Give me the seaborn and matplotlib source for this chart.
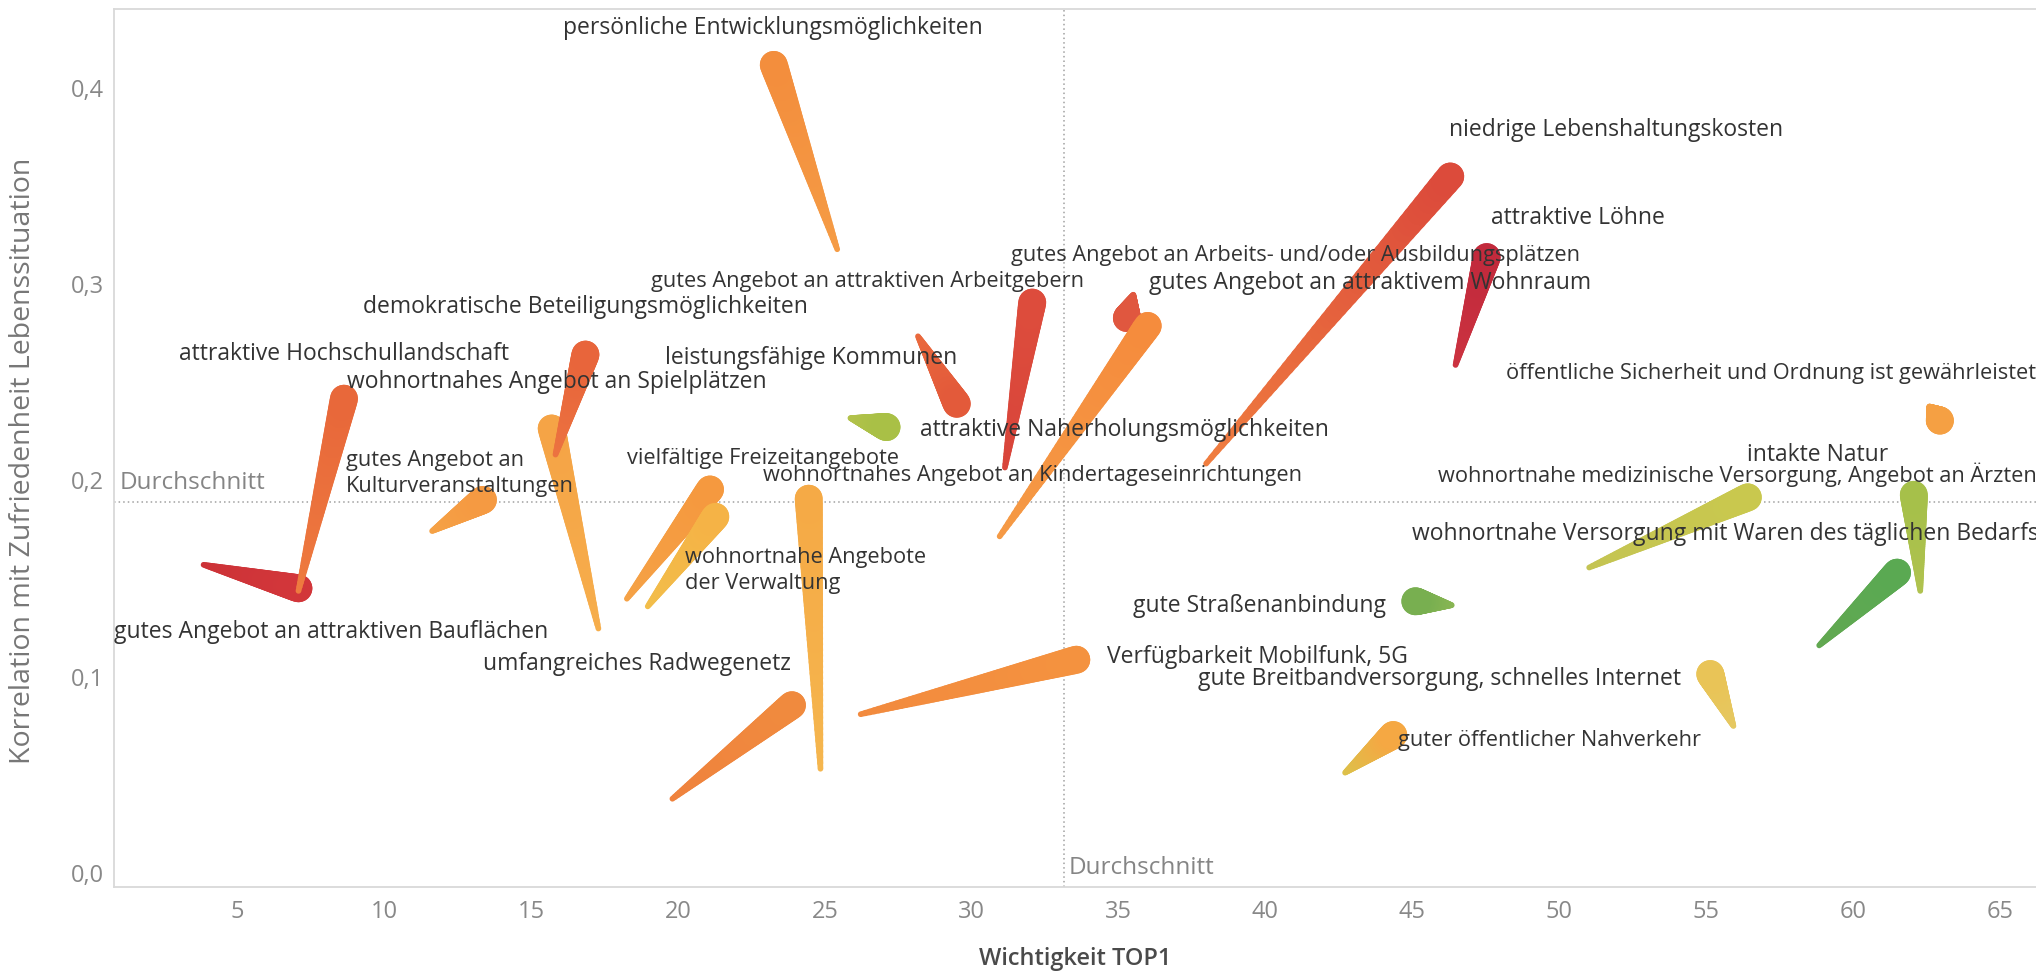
import numpy as np
import matplotlib
matplotlib.use("Agg")
import matplotlib.pyplot as plt
import seaborn as sns
import pandas as pd
from matplotlib.collections import LineCollection
from matplotlib.colors import to_rgb

# ---------------- data ----------------
names = [
    "gutes Angebot an attraktiven Bauflächen",
    "attraktive Hochschullandschaft",
    "gutes Angebot an Kulturveranstaltungen",
    "wohnortnahes Angebot an Spielplätzen",
    "demokratische Beteiligungsmöglichkeiten",
    "vielfältige Freizeitangebote",
    "wohnortnahe Angebote der Verwaltung",
    "umfangreiches Radwegenetz",
    "wohnortnahes Angebot an Kindertageseinrichtungen",
    "persönliche Entwicklungsmöglichkeiten",
    "leistungsfähige Kommunen",
    "attraktive Naherholungsmöglichkeiten",
    "gutes Angebot an attraktiven Arbeitgebern",
    "gutes Angebot an Arbeits- und/oder Ausbildungsplätzen",
    "gutes Angebot an attraktivem Wohnraum",
    "Verfügbarkeit Mobilfunk, 5G",
    "niedrige Lebenshaltungskosten",
    "attraktive Löhne",
    "gute Straßenanbindung",
    "guter öffentlicher Nahverkehr",
    "gute Breitbandversorgung, schnelles Internet",
    "wohnortnahe medizinische Versorgung, Angebot an Ärzten",
    "wohnortnahe Versorgung mit Waren des täglichen Bedarfs",
    "intakte Natur",
    "öffentliche Sicherheit und Ordnung ist gewährleistet",
]
# Wichtigkeit TOP1 (start / end of each path)
wichtigkeit_start = [3.85, 7.08, 11.63, 17.29, 15.83, 18.26, 18.97, 19.81, 24.85, 25.42,
                     28.17, 25.87, 31.13, 35.50, 30.95, 26.22, 37.98, 46.47, 46.34, 42.71,
                     55.93, 51.02, 58.85, 62.29, 62.60]
wichtigkeit_end = [7.08, 8.63, 13.36, 15.70, 16.85, 21.09, 21.27, 23.88, 24.45, 23.26,
                   29.49, 27.10, 32.06, 35.28, 35.99, 33.56, 46.29, 47.53, 45.10, 44.35,
                   55.14, 56.42, 61.50, 62.07, 62.96]
# Korrelation mit Zufriedenheit Lebenssituation (start / end)
korrelation_start = [0.157, 0.1437, 0.1742, 0.1245, 0.2132, 0.1397, 0.1358, 0.0377, 0.0530, 0.3179,
                     0.2735, 0.2318, 0.2066, 0.2947, 0.1715, 0.0808, 0.2086, 0.2589, 0.1364, 0.0510,
                     0.0748, 0.1556, 0.1159, 0.1437, 0.2377]
korrelation_end = [0.145, 0.2417, 0.1901, 0.2265, 0.2642, 0.1954, 0.1815, 0.0854, 0.1907, 0.4119,
                   0.2391, 0.2272, 0.2907, 0.2828, 0.2788, 0.1086, 0.3550, 0.3139, 0.1384, 0.0702,
                   0.1013, 0.1914, 0.1530, 0.1927, 0.2305]
avg_x = 33.15
avg_y = 0.189
x_ticks = [5, 10, 15, 20, 25, 30, 35, 40, 45, 50, 55, 60, 65]
y_ticks = [0.0, 0.1, 0.2, 0.3, 0.4]
y_tick_labels = ["0,0", "0,1", "0,2", "0,3", "0,4"]

# ---------------- styles / layout ----------------
head_colors = ["#D2363A", "#E8683A", "#F59A42", "#F5A446", "#E8653B", "#F5993F", "#F5B346",
               "#F08A3E", "#F5AA46", "#F38E3D", "#E35A3A", "#A9C046", "#DD4C3C", "#E0573F",
               "#F58C3D", "#F4923F", "#DC4B3B", "#C22A3C", "#78AF50", "#F5A843", "#E9C457",
               "#C9C84E", "#5AA952", "#A6C04A", "#F5A043"]
tail_colors = ["#CC3237", "#EE7B3F", "#F5A246", "#F6AE4C", "#EC7340", "#F5A246", "#F2BE4A",
               "#EF823D", "#F5B64E", "#F59C45", "#EA6A3D", "#B4C24B", "#D8443A", "#E0573F",
               "#F59A45", "#F28A3E", "#F07E3F", "#CC3340", "#8AB653", "#DCC24A", "#E5C862",
               "#C4C453", "#62A851", "#B0C24F", "#F5A043"]
label_x = [8.18, 8.63, 8.69, 15.87, 16.85, 22.9, 20.23, 18.6, 32.07, 23.23,
           24.54, 35.2, 26.44, 41.03, 43.55, 34.62, 51.95, 50.62, 39.8, 49.66,
           45.92, 56.05, 55.65, 58.8, 57.2]
label_y = [0.1225, 0.2647, 0.2033, 0.2503, 0.2883, 0.2113, 0.1543, 0.1066, 0.2026, 0.4306,
           0.2623, 0.2258, 0.3013, 0.3145, 0.3007, 0.1099, 0.3788, 0.3338, 0.1358, 0.0675,
           0.0987, 0.2028, 0.1728, 0.2130, 0.2546]
label_ha = ["center", "center", "left", "center", "center", "center", "left", "center", "center",
            "center", "center", "center", "center", "center", "center", "left", "center", "center",
            "center", "center", "center", "center", "center", "center", "center"]
BIG, SMALL = 16.5, 15.7
label_size = [BIG, BIG, SMALL, BIG, BIG, SMALL, SMALL, BIG, SMALL, BIG,
              BIG, BIG, SMALL, SMALL, BIG, BIG, BIG, BIG, BIG, SMALL,
              BIG, SMALL, BIG, BIG, SMALL]
wrapped = {
    "gutes Angebot an Kulturveranstaltungen": "gutes Angebot an\nKulturveranstaltungen",
    "wohnortnahe Angebote der Verwaltung": "wohnortnahe Angebote\nder Verwaltung",
}

W_TAIL, W_HEAD = 3.8, 20.0   # line width in points at thin / thick end
N_SEG = 48

sns.set_theme(style="white")
plt.rcParams['font.family'] = ['Open Sans', 'DejaVu Sans']

fig = plt.figure(figsize=(20.36, 9.73), dpi=100)
ax = fig.add_axes([114 / 2036, 86 / 973, 1 - 114 / 2036, (887 - 9) / 973])
ax.set_xlim(0.80, 66.23)
ax.set_ylim(-0.0073, 0.4404)

df = pd.DataFrame({"name": names,
                   "x_end": wichtigkeit_end, "y_end": korrelation_end})
sns.scatterplot(data=df, x="x_end", y="y_end", hue="name",
                palette=dict(zip(names, head_colors)), s=W_HEAD ** 2,
                linewidth=0, legend=False, ax=ax, zorder=1.5)

# reference lines
ax.axhline(avg_y, color="#a0a0a0", lw=1.1, ls=(0, (1, 2)), zorder=1)
ax.axvline(avg_x, color="#a0a0a0", lw=1.1, ls=(0, (1, 2)), zorder=1)
ax.annotate("Durchschnitt", xy=(0, avg_y), xycoords=("axes fraction", "data"),
            xytext=(4, 5), textcoords="offset points", ha="left", va="bottom",
            fontsize=17.5, color="#858585")
ax.annotate("Durchschnitt", xy=(avg_x, 0), xycoords=("data", "axes fraction"),
            xytext=(3, 5), textcoords="offset points", ha="left", va="bottom",
            fontsize=17.5, color="#858585")

# tapered comet paths
t = np.linspace(0, 1, N_SEG + 1)
for i in range(len(names)):
    xs = wichtigkeit_start[i] + (wichtigkeit_end[i] - wichtigkeit_start[i]) * t
    ys = korrelation_start[i] + (korrelation_end[i] - korrelation_start[i]) * t
    pts = np.column_stack([xs, ys])
    segs = np.stack([pts[:-1], pts[1:]], axis=1)
    frac = t[1:]
    widths = W_TAIL + (W_HEAD - W_TAIL) * frac
    c0 = np.array(to_rgb(tail_colors[i]))
    c1 = np.array(to_rgb(head_colors[i]))
    cols = c0[None, :] + (c1 - c0)[None, :] * frac[:, None]
    lc = LineCollection(segs, linewidths=widths, colors=cols, capstyle="round",
                        joinstyle="round", zorder=2 + i * 0.01)
    ax.add_collection(lc)

# labels
for i, n in enumerate(names):
    ax.text(label_x[i], label_y[i], wrapped.get(n, n), ha=label_ha[i], va="center",
            fontsize=label_size[i], color="#333333",
            linespacing=1.25 * BIG / label_size[i], zorder=5)

# axes styling
for side in ["left", "bottom", "top"]:
    ax.spines[side].set_visible(True)
    ax.spines[side].set_color("#d9d9d9")
    ax.spines[side].set_linewidth(1.3)
ax.spines["right"].set_visible(False)
ax.set_xticks(x_ticks)
ax.set_xticklabels([str(v) for v in x_ticks])
ax.set_yticks(y_ticks)
ax.set_yticklabels(y_tick_labels)
ax.tick_params(axis="both", length=0, labelsize=17, labelcolor="#888888")
ax.tick_params(axis="x", pad=9)
ax.tick_params(axis="y", pad=7)
ax.grid(False)

ax.set_xlabel("Wichtigkeit TOP1", fontsize=17, color="#4a4a4a", fontweight="semibold")
ax.set_ylabel("Korrelation mit Zufriedenheit Lebenssituation", fontsize=20.5, color="#777777")
ax.xaxis.set_label_coords(0.5, -0.082)
ax.xaxis.label.set_va("center")
ax.yaxis.set_label_coords(-0.0473, 0.485)
ax.yaxis.label.set_va("center")

fig.savefig("out.png", dpi=100, facecolor="white")
